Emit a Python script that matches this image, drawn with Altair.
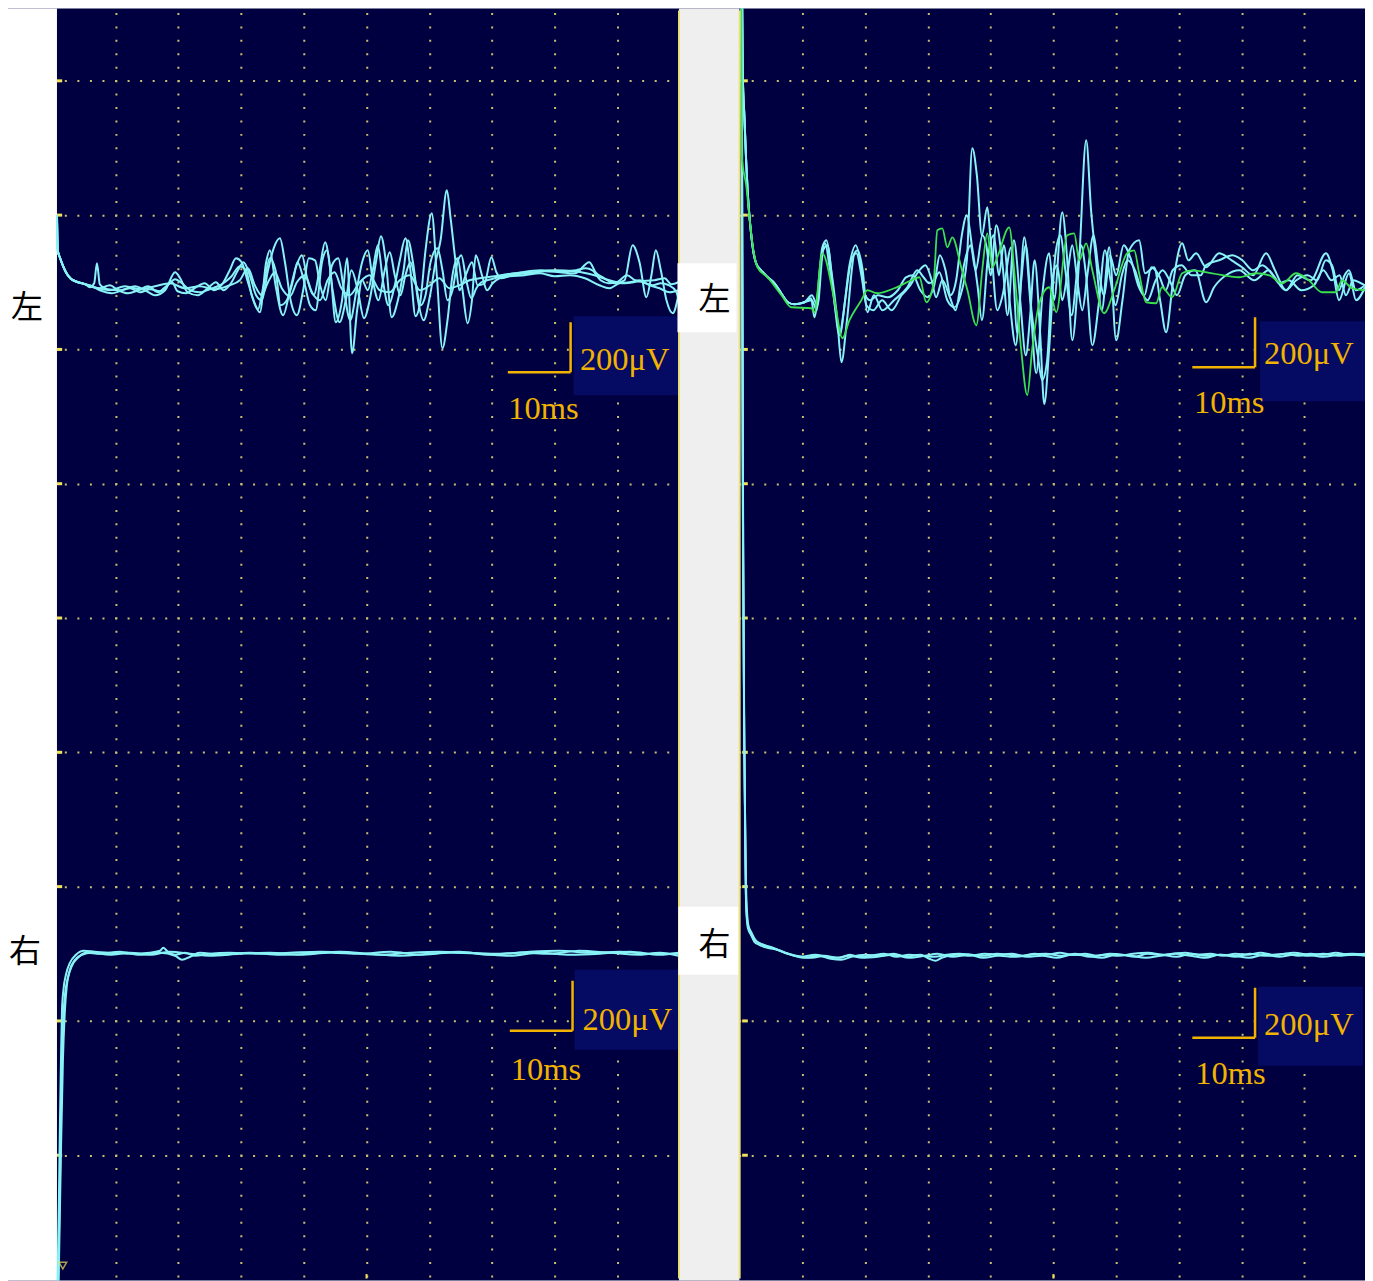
import altair as alt
import pandas as pd

# ------------------------------------------------------------------
# Sweeps: (time in ms, amplitude in µV relative to the channel baseline)
# ------------------------------------------------------------------
START_LU = [(0.67, 280), (0.8, 140), (1.15, 110), (1.6, 80), (2.1, 52), (2.8, 28), (3.6, 16), (5.2, 4)]

LU1 = START_LU + [(5.9, -8), (6.6, 8), (7.04, 88), (7.5, 4), (8.8, -16), (10.7, -20), (12.3, -12), (13.9, -28),
    (15.5, -16), (17.1, -24), (18.3, 0), (19.5, 24), (20.6, 8), (21.9, -20), (23.4, -28), (25.0, -16), (26.3, -4),
    (27.4, 12), (28.5, 36), (29.8, 76), (30.8, 60), (31.7, -40), (32.7, -96), (33.6, 0), (34.6, 108), (35.5, 60),
    (36.3, -80), (37.3, -60), (38.3, 20), (39.0, 92), (40.0, 20), (41.0, -80), (41.9, -100), (42.9, 92), (43.7, 140),
    (44.6, -20), (45.7, -148), (46.7, -60), (47.6, 60), (48.6, -20), (49.6, -132), (50.5, -60), (51.5, 92), (52.3, 196),
    (53.1, 92), (54.0, -128), (55.0, -60), (55.9, 60), (56.6, 180), (57.4, 92), (58.2, -60), (59.1, -140), (60.1, -44),
    (61.0, 92), (61.8, 180), (62.8, 380), (63.4, 268), (64.2, 92), (64.8, -20), (65.8, 40), (66.8, 92), (67.7, 0),
    (68.8, 8), (69.9, 112), (70.7, 52), (71.5, 28), (73.6, 44), (76.0, 48), (78.4, 56), (80.8, 52), (83.2, 48),
    (85.5, 92), (86.5, 52), (87.9, 28), (89.5, 8), (91.1, 20), (92.4, 160), (93.5, 92), (94.6, -48), (95.4, 40),
    (96.1, 140), (96.9, 60), (97.8, -60), (98.8, -112), (99.7, -40)]

LU2 = START_LU + [(5.9, -4), (7.5, -12), (9.1, 0), (10.4, -20), (12.0, -32), (13.6, -20), (15.2, -4), (16.8, -28),
    (17.9, -8), (19.0, 12), (19.9, -24), (21.2, -32), (22.8, -8), (24.2, 8), (25.7, -20), (27.0, 4), (28.2, 60),
    (29.2, 108), (30.1, 92), (31.1, 12), (32.0, -60), (33.0, -108), (34.0, 92), (34.6, 140), (35.5, 0), (36.7, -120),
    (37.8, -20), (38.7, 68), (39.7, 120), (40.6, 20), (41.6, -40), (42.5, 60), (43.4, 172), (44.2, 68), (45.1, -148),
    (46.1, -60), (46.9, 108), (47.7, -272), (48.5, -100), (49.3, 20), (50.2, -20), (51.0, 60), (51.8, 160), (52.6, 20),
    (53.5, -80), (54.5, 0), (55.3, 100), (56.2, 188), (57.0, 60), (57.8, -124), (58.6, -60), (59.4, 140), (60.4, 288),
    (61.2, 40), (62.1, -252), (62.9, -140), (63.7, 40), (64.5, 108), (65.3, -20), (66.1, -152), (66.8, -60),
    (67.4, 120), (68.4, 40), (69.2, -20), (70.1, 8), (71.2, 28), (72.8, 36), (75.2, 40), (77.6, 48), (80.0, 36),
    (82.4, 40), (84.8, 28), (87.1, 0), (88.7, -12), (90.3, 8), (91.9, 12), (93.5, 20), (95.1, 0), (96.7, -12),
    (98.3, -28), (99.7, -20)]

LU3 = START_LU + [(5.9, 0), (7.5, -20), (9.4, -32), (11.5, -16), (13.1, -4), (14.7, -20), (16.3, -40), (17.9, -20),
    (19.5, 52), (20.3, 28), (21.5, -28), (23.1, -40), (24.7, -12), (26.0, 12), (27.2, -20), (28.5, 12), (29.5, 60),
    (30.4, 92), (31.4, 40), (32.4, -40), (33.3, -60), (34.3, 60), (35.2, 148), (36.2, 188), (37.0, 92), (37.9, -60),
    (38.9, -120), (39.9, -20), (40.8, 108), (41.8, 100), (42.6, 0), (43.5, -60), (44.5, 80), (45.5, 108), (46.4, -20),
    (47.4, -140), (48.4, -20), (49.3, 92), (50.2, 140), (51.0, 20), (51.9, -60), (52.9, 60), (53.7, 132), (54.5, 40),
    (55.4, -40), (56.2, 40), (57.0, 92), (57.8, 12), (58.6, -80), (59.4, -40), (60.2, 92), (61.3, 148), (62.1, 60),
    (62.9, -60), (63.7, -20), (64.5, 92), (65.1, 120), (65.9, 20), (66.7, -52), (67.5, -12), (68.3, 12), (69.9, 24),
    (71.5, 36), (74.7, 52), (77.8, 60), (81.0, 56), (83.4, 60), (84.9, 68), (86.0, 60), (87.3, 20), (88.6, 8),
    (89.9, 12), (91.5, 40), (92.8, 20), (94.0, 12), (95.6, 0), (96.9, 8), (98.2, 0), (99.4, -28), (99.7, -60)]

LU4 = START_LU + [(6.7, -8), (9.1, -20), (11.5, -4), (13.9, -16), (16.3, -4), (18.7, 8), (21.1, -12), (23.4, -4),
    (25.8, -16), (28.2, 0), (29.8, 20), (31.1, 68), (32.2, 0), (33.3, -40), (34.3, 12), (35.4, 52), (36.5, -12),
    (37.8, -44), (38.9, 12), (40.2, 40), (41.3, -28), (42.6, -60), (43.8, 20), (44.9, 52), (46.0, -12), (47.3, -40),
    (48.9, 12), (50.5, 40), (52.1, -20), (53.7, -28), (55.3, 20), (56.9, 40), (58.5, -20), (60.1, 0), (61.6, 28),
    (63.2, -12), (64.8, 0), (66.4, 20), (68.0, 28), (70.4, 36), (73.6, 48), (76.8, 52), (80.0, 60), (83.2, 56),
    (86.3, 40), (88.7, 20), (91.1, 8), (93.5, 16), (95.9, 20), (97.5, 28), (98.6, 4), (99.7, 12)]

LL1 = [(0.72, -1400), (0.98, -988), (1.15, -668), (1.31, -428), (1.47, -228), (1.70, -148), (2.10, -88), (2.73, -40),
    (3.69, -8), (4.96, 8), (6.7, 4), (9.1, 0), (12.3, -4), (15.5, 0), (17.1, 8), (17.6, 20), (18.2, 8), (19.5, -8),
    (21.1, 0), (22.7, -12), (25.0, -4), (28.2, 0), (33.0, -4), (37.8, 0), (42.6, 4), (47.3, 0), (52.1, -8), (56.9, 0),
    (61.6, 4), (66.4, 0), (71.2, -4), (76.0, 4), (80.8, 8), (85.5, 0), (90.3, 4), (95.1, -4), (99.7, -4)]
LL2 = [(0.8, -1400), (1.15, -908), (1.39, -508), (1.62, -288), (1.94, -168), (2.42, -100), (3.06, -52), (4.01, -20),
    (5.3, 0), (7.5, -4), (10.7, 4), (13.9, -8), (17.1, 0), (19.5, -12), (20.6, -28), (21.9, -16), (23.4, 0), (26.6, -8),
    (31.4, 0), (36.2, -8), (40.9, -4), (45.7, 4), (50.5, -4), (55.3, -12), (60.1, -4), (64.8, 4), (69.6, -8), (74.4, 0),
    (79.2, -4), (83.9, 8), (88.7, 0), (93.5, -8), (96.7, 0), (99.7, -12)]
LL3 = [(0.88, -1400), (1.31, -788), (1.62, -428), (1.94, -228), (2.26, -128), (2.73, -68), (3.53, -28), (4.65, -8),
    (6.2, 0), (9.1, -8), (12.3, 0), (15.5, -8), (18.7, 4), (21.9, -4), (25.0, -12), (29.8, -4), (34.6, 0), (39.4, -8),
    (44.2, 0), (49.0, -4), (53.8, 4), (58.5, -8), (63.3, 0), (68.1, -4), (72.8, -12), (77.6, 0), (82.4, -8), (87.2, -4),
    (92.0, 4), (96.7, -8), (99.7, 0)]

START_RU = [(0.35, 1300), (0.49, 852), (0.76, 672), (1.03, 500), (1.29, 368), (1.72, 232), (2.08, 152), (2.62, 88),
    (3.42, 60), (4.49, 32), (5.56, 8), (6.62, -32), (7.68, -68), (8.73, -76), (10.32, -68)]

RU1 = START_RU + [(11.38, -52), (11.91, -128), (13.18, 152), (13.82, 180), (14.6, 60), (15.57, -140), (16.21, -308),
    (17.1, -140), (18.28, 128), (18.8, 140), (19.6, 60), (20.35, -108), (21.4, -40), (22.74, -100), (24.6, -60),
    (26.72, -8), (28.31, 60), (29.3, 32), (30.22, 8), (31.0, 20), (31.81, 52), (33.09, -60), (34.2, -88), (35.2, -40),
    (36.2, 100), (37.07, 548), (37.8, 440), (38.6, 200), (39.46, 312), (40.0, 180), (41.05, -100), (41.9, -40),
    (43.28, 152), (44.24, -192), (45.35, 192), (46.3, -60), (47.26, -352), (48.3, -20), (49.33, 128), (50.1, -60),
    (51.4, 292), (52.2, 100), (53.0, -220), (54.1, 100), (55.22, 580), (56.0, 300), (56.8, 100), (57.7, -100),
    (58.89, 152), (60.0, -220), (61.0, -60), (62.07, 140), (63.66, 180), (64.6, 48), (66.05, 72), (67.0, -60),
    (67.96, -188), (69.0, 0), (70.51, 168), (71.5, 100), (72.74, 128), (74.33, 72), (76.4, 128), (78.4, 100),
    (80.06, 72), (81.8, 40), (83.89, 128), (85.3, 60), (87.07, -20), (88.9, 40), (91.0, 20), (93.44, 128), (94.5, 60),
    (95.51, -60), (97.1, 48), (98.22, -60), (99.65, -8)]

RU2 = START_RU + [(11.5, -60), (12.3, -100), (13.0, 100), (13.6, 168), (14.4, 60), (15.4, -120), (16.0, -200),
    (16.8, -60), (17.8, 100), (18.6, 128), (19.4, 40), (20.2, -80), (21.3, -100), (22.7, -60), (24.2, -100),
    (25.8, -40), (27.2, 0), (28.3, 48), (29.6, 80), (30.6, 20), (31.3, -48), (32.3, 20), (33.5, -48), (34.4, -100),
    (35.3, 20), (36.1, 120), (36.8, 160), (37.6, 60), (38.7, 200), (39.3, 160), (40.0, 40), (40.9, 240), (41.9, 80),
    (42.7, -120), (43.7, 180), (44.7, -60), (45.6, -280), (46.3, -120), (47.0, 100), (47.9, -200), (48.54, -476),
    (49.3, -260), (50.3, 120), (51.1, 200), (51.9, 60), (52.9, -120), (53.8, 60), (54.4, 160), (55.2, 40),
    (56.2, -240), (57.2, -80), (58.2, 140), (59.1, 20), (59.9, -80), (60.9, 40), (61.8, 100), (63.0, 60), (64.0, -20),
    (65.0, -60), (66.3, 20), (67.4, 60), (68.5, 20), (69.7, -40), (71.0, 40), (72.6, 60), (74.33, -68), (75.6, -8),
    (77.5, 40), (79.6, 60), (82.0, 20), (84.3, 60), (86.0, 8), (87.5, 20), (89.5, -20), (91.5, 0), (93.0, 60),
    (94.3, 20), (95.6, 40), (96.6, -40), (97.8, 20), (99.0, 8), (99.65, 0)]

RU3 = START_RU + [(11.5, -40), (12.4, -80), (13.3, 140), (14.0, 160), (14.9, -20), (15.9, -200), (16.5, -120),
    (17.5, 80), (18.5, 160), (19.2, 100), (20.0, -40), (20.8, -60), (22.0, -40), (23.6, -48), (25.2, -20), (26.5, 32),
    (27.6, 40), (28.8, -20), (30.0, -48), (31.0, 0), (31.9, 120), (32.8, 60), (33.6, -40), (34.5, 20), (35.4, 200),
    (36.2, 280), (37.0, 160), (37.9, 0), (38.6, -140), (39.6, 120), (40.5, 200), (41.3, 40), (42.1, 160), (43.0, -60),
    (44.0, -240), (44.8, 0), (45.6, 160), (46.5, -100), (47.5, -280), (48.2, -380), (49.0, -300), (49.8, 20),
    (50.6, 80), (51.4, -60), (52.3, 60), (53.0, 160), (53.8, 20), (54.6, -100), (55.4, 40), (56.4, 200), (57.2, 60),
    (58.1, -40), (59.0, 120), (60.0, 40), (61.2, 160), (62.4, 100), (63.5, 0), (64.5, -40), (65.6, 72), (66.8, 40),
    (67.9, -20), (69.0, 60), (70.4, 80), (72.0, 40), (73.5, 40), (74.3, 80), (76.4, 100), (78.5, 120), (80.1, 100),
    (81.8, 60), (83.3, 80), (85.0, 40), (87.0, -20), (88.7, 20), (90.5, 40), (92.0, 20), (93.4, 100), (94.4, 80),
    (95.5, -20), (96.4, 40), (97.1, 60), (98.2, -20), (99.65, 0)]

RUG = [(0.25, 1300), (0.33, 520), (1.08, 392), (1.56, 272), (2.04, 168), (2.83, 72), (4.43, 32), (6.66, -40),
    (8.25, -88), (11.43, -92), (11.91, -108), (13.18, 128), (15.1, -60), (16.37, -212), (17.5, -140), (19.39, -60),
    (20.35, -20), (21.9, -32), (24.65, -12), (27.36, 20), (28.63, 32), (29.75, -68), (30.9, 8), (31.5, 220),
    (32.29, 228), (33.09, 152), (33.89, 192), (35.3, 72), (36.3, -20), (37.71, -160), (38.7, 72), (39.46, 208),
    (40.25, 72), (41.05, 112), (42.96, 232), (43.8, 48), (44.87, -260), (45.83, -440), (46.6, -260), (47.74, -72),
    (49.33, -8), (50.45, -108), (52.2, 200), (53.31, 208), (54.11, 100), (55.22, 168), (56.2, 60), (58.09, -112),
    (59.68, -20), (61.75, 128), (62.87, 140), (63.66, 48), (64.78, -68), (66.37, -72), (67.3, -8), (68.92, -48),
    (70.51, 48), (72.1, 60), (75.29, 48), (79.59, 32), (82.29, 48), (84.4, 40), (86.43, 8), (88.66, 48), (90.7, 20),
    (92.8, -28), (95.0, -28), (95.99, 20), (97.6, -12), (99.65, -20)]

RL1 = [(0.25, 4200), (0.5, 1800), (0.75, 800), (1.03, 184), (1.3, 100), (1.8, 72), (2.35, 44), (3.1, 32), (4.4, 20),
    (6.0, 12), (7.6, -4), (9.8, -16), (12.0, -8), (14.0, -16), (16.0, -20), (17.5, -8), (19.0, -16), (21.0, -12),
    (23.0, -4), (25.0, -16), (27.0, -8), (29.0, -12), (31.0, -16), (33.0, -8), (35.0, -4), (37.0, -8), (39.0, -12),
    (41.0, -4), (43.0, -8), (45.0, -12), (47.0, -4), (49.0, -8), (51.0, 0), (53.0, -8), (55.0, -4), (57.0, -12),
    (59.0, -4), (61.0, -8), (63.0, -16), (65.0, -4), (67.0, -8), (69.0, -4), (71.0, 0), (73.0, -8), (75.0, -4),
    (77.0, -12), (79.0, -4), (81.0, -8), (83.0, 0), (85.0, -8), (87.0, -4), (89.0, -12), (91.0, -4), (93.0, -8),
    (95.0, 0), (97.0, -8), (99.65, -4)]
RL2 = [(0.3, 4200), (0.55, 1600), (0.8, 700), (1.1, 200), (1.4, 108), (1.9, 80), (2.5, 52), (3.4, 36), (4.8, 24),
    (6.5, 8), (8.2, -8), (10.5, -20), (12.5, -12), (14.5, -24), (16.2, -28), (17.8, -16), (20.0, -8), (22.3, -12),
    (24.6, -4), (26.5, -16), (28.8, -8), (30.2, -24), (31.2, -32), (32.2, -20), (34.5, -8), (36.8, -12), (39.0, -4),
    (41.6, -12), (44.0, -16), (46.3, -8), (48.8, -4), (51.2, -12), (53.5, -4), (55.8, -16), (58.1, -8), (60.4, -12),
    (62.7, -4), (65.0, 0), (67.3, -8), (69.6, -16), (72.0, -4), (74.3, -12), (76.6, -8), (79.0, -16), (81.3, -4),
    (83.6, -12), (86.0, -8), (88.3, 0), (90.6, -8), (93.0, -16), (95.3, -8), (97.6, -4), (99.65, -8)]
RL3 = [(0.28, 4200), (0.5, 2000), (0.72, 900), (0.95, 260), (1.25, 120), (1.7, 84), (2.2, 56), (3.0, 40), (4.2, 28),
    (5.6, 16), (7.2, 0), (9.0, -12), (11.5, -20), (13.5, -12), (15.5, -20), (17.5, -12), (19.5, -20), (22.0, -16),
    (24.5, -8), (27.0, -20), (29.5, -12), (31.5, -4), (34.0, -16), (36.5, -8), (38.8, -20), (41.0, -12), (43.4, -4),
    (45.8, -16), (48.2, -12), (50.5, -20), (53.0, -8), (55.4, -12), (57.7, -20), (60.0, -8), (62.4, -12), (64.7, -20),
    (67.1, -12), (69.5, -4), (71.8, -12), (74.2, -20), (76.5, -8), (78.9, -12), (81.2, -20), (83.6, -8), (86.0, -16),
    (88.3, -8), (90.7, -12), (93.0, -4), (95.4, -12), (97.7, -8), (99.65, -12)]

# channel display offsets (µV) and screen layout in the same units
OFFSET = {"左": 1332, "右": -1340}
DIV_UV = 537.6            # one vertical division
Y_DOMAIN = [-2652, 2440]
YGRID = [k * DIV_UV for k in range(-4, 5)]
XGRID = [10, 20, 30, 40, 50, 60, 70, 80, 90]
LEFT_X = [-7.134, 109.43]
RIGHT_X = [-0.032, 99.65]

# scale bar annotations: (channel, corner ms, corner µV, box [t1, t2, v1, v2], "200μV" pos, "10ms" pos)
BARS_LEFT = [("左", 82.52, -348, (83.0, 99.8, -440, -124), (84.0, -300), (72.6, -496)),
             ("右", 82.83, -312, (83.15, 99.8, -388, -68), (84.43, -268), (73.0, -468))]
BARS_RIGHT = [("左", 82.13, -328, (82.93, 99.65, -464, -144), (83.57, -276), (72.4, -472)),
              ("右", 82.13, -340, (82.61, 99.33, -452, -136), (83.57, -288), (72.6, -484))]

BG = "#000040"
BOX = "#050a62"
GRID_C = "#c8c070"
GOLD = "#f2b300"
YEL = "#f2e25a"
CYAN = "#88f2f6"
GREEN = "#3ae04e"
EDGE_PAD = 8  # keeps full-height rules inside the plot so the chart is not shifted


def sweeps_df(sweeps, channel, prefix):
    rows = []
    for k, pts in enumerate(sweeps):
        for i, (t, v) in enumerate(pts):
            rows.append({"t": t, "y": v + OFFSET[channel], "sweep": f"{prefix}{k}", "i": i})
    return pd.DataFrame(rows)


def panel(xdom, width, hdash_off, cyan_df, green_df, bars, extras):
    sx = alt.Scale(domain=xdom, nice=False, zero=False)
    sy = alt.Scale(domain=Y_DOMAIN, nice=False, zero=False)
    axx = alt.Axis(values=XGRID, grid=True, gridColor=GRID_C, gridWidth=2, gridDash=[2, 11.44],
                   gridDashOffset=9.4, labels=False, ticks=False, domain=False, title=None)
    axy = alt.Axis(values=YGRID, grid=True, gridColor=GRID_C, gridWidth=2, gridDash=[2, 10.56],
                   gridDashOffset=hdash_off, labels=False, ticks=False, domain=False, title=None)

    def X(f):
        return alt.X(f, type="quantitative", scale=sx, axis=axx)

    def Y(f):
        return alt.Y(f, type="quantitative", scale=sy, axis=axy)

    layers = []
    for lay in extras["pre"]:
        layers.append(lay(X, Y))

    # edge ticks on horizontal divisions
    t0, t1 = extras["edge"]
    edge = pd.DataFrame({"t": [t0] * len(YGRID), "t2": [t1] * len(YGRID), "y": YGRID})
    layers.append(alt.Chart(edge).mark_rule(color=YEL, strokeWidth=3).encode(x=X("t"), x2="t2", y=Y("y")))
    # trigger mark at bottom
    trig = pd.DataFrame({"t": [50], "y": [Y_DOMAIN[0] + 8], "y2": [Y_DOMAIN[0] + 26]})
    layers.append(alt.Chart(trig).mark_rule(color=YEL, strokeWidth=2).encode(x=X("t"), y=Y("y"), y2="y2"))

    layers.append(alt.Chart(cyan_df).mark_line(color=CYAN, strokeWidth=2, clip=True,
                                               interpolate="monotone").encode(
        x=X("t"), y=Y("y"), detail="sweep:N", order="i:Q"))
    if green_df is not None:
        layers.append(alt.Chart(green_df).mark_line(color=GREEN, strokeWidth=1.8, clip=True,
                                                    interpolate="monotone").encode(
            x=X("t"), y=Y("y"), detail="sweep:N", order="i:Q"))

    boxes, hbars, vbars, texts = [], [], [], []
    for ch, ct, cv, (b1, b2, b3, b4), p200, p10 in bars:
        off = OFFSET[ch]
        boxes.append({"t": b1, "t2": b2, "y": b3 + off, "y2": b4 + off})
        hbars.append({"t": ct - 10, "t2": ct, "y": cv + off})
        vbars.append({"t": ct, "y": cv + off, "y2": cv + 200 + off})
        texts.append({"t": p200[0], "y": p200[1] + off, "label": "200μV"})
        texts.append({"t": p10[0], "y": p10[1] + off, "label": "10ms"})
    layers.append(alt.Chart(pd.DataFrame(boxes)).mark_rect(color=BOX).encode(
        x=X("t"), x2="t2", y=Y("y"), y2="y2"))
    layers.append(alt.Chart(pd.DataFrame(hbars)).mark_rule(color=GOLD, strokeWidth=2.5).encode(
        x=X("t"), x2="t2", y=Y("y")))
    layers.append(alt.Chart(pd.DataFrame(vbars)).mark_rule(color=GOLD, strokeWidth=2.5).encode(
        x=X("t"), y=Y("y"), y2="y2"))
    layers.append(alt.Chart(pd.DataFrame(texts)).mark_text(
        align="left", baseline="middle", font="Liberation Serif", fontSize=32.5, color=GOLD).encode(
        x=X("t"), y=Y("y"), text="label:N"))

    for lay in extras["post"]:
        layers.append(lay(X, Y))

    return alt.layer(*layers).properties(width=width, height=1273)


# ---------------- left panel extras ----------------
def left_pre_margin(X, Y):
    d = pd.DataFrame({"t": [LEFT_X[0]], "t2": [0.67], "y": [Y_DOMAIN[0]], "y2": [Y_DOMAIN[1]]})
    return alt.Chart(d).mark_rect(color="white").encode(x=X("t"), x2="t2", y=Y("y"), y2="y2")


def left_post_strip(X, Y):
    d = pd.DataFrame({"t": [99.8], "t2": [LEFT_X[1]], "y": [Y_DOMAIN[0]], "y2": [Y_DOMAIN[1]]})
    return alt.Chart(d).mark_rect(color="#efefef").encode(x=X("t"), x2="t2", y=Y("y"), y2="y2")


def left_post_line(X, Y):
    d = pd.DataFrame({"t": [99.8], "y": [Y_DOMAIN[0] + EDGE_PAD], "y2": [Y_DOMAIN[1] - EDGE_PAD]})
    return alt.Chart(d).mark_rule(color="#ece27a", strokeWidth=2).encode(x=X("t"), y=Y("y"), y2="y2")


def left_post_boxes(X, Y):
    d = pd.DataFrame({"t": [99.55, 99.71], "t2": [108.95, 109.27],
                      "y": [-188 + OFFSET["左"], -88 + OFFSET["右"]],
                      "y2": [88 + OFFSET["左"], 184 + OFFSET["右"]]})
    return alt.Chart(d).mark_rect(color="white").encode(x=X("t"), x2="t2", y=Y("y"), y2="y2")


def left_post_labels(X, Y):
    d = pd.DataFrame({"t": [-4.11, -4.43, 105.45, 105.45],
                      "y": [-90 + OFFSET["左"], 2 + OFFSET["右"], -58 + OFFSET["左"], 30 + OFFSET["右"]],
                      "label": ["左", "右", "左", "右"]})
    return alt.Chart(d).mark_text(align="center", baseline="middle", font="Noto Sans CJK JP",
                                  fontSize=32, color="black").encode(x=X("t"), y=Y("y"), text="label:N")


def left_post_marker(X, Y):
    d = pd.DataFrame({"t": [1.6], "y": [-2592]})
    return alt.Chart(d).mark_point(shape="triangle-down", filled=False, color=YEL, size=60,
                                   strokeWidth=1.5).encode(x=X("t"), y=Y("y"))


def right_post_line(X, Y):
    d = pd.DataFrame({"t": [0.0], "y": [Y_DOMAIN[0] + EDGE_PAD], "y2": [Y_DOMAIN[1] - EDGE_PAD]})
    return alt.Chart(d).mark_rule(color="#ece27a", strokeWidth=2).encode(x=X("t"), y=Y("y"), y2="y2")


left_cyan = pd.concat([sweeps_df([LU1, LU2, LU3, LU4], "左", "lu"),
                       sweeps_df([LL1, LL2, LL3], "右", "ll")])
right_cyan = pd.concat([sweeps_df([RU1, RU2, RU3], "左", "ru"),
                        sweeps_df([RL1, RL2, RL3], "右", "rl")])
right_green = sweeps_df([RUG], "左", "rg")

left = panel(LEFT_X, 732, 6.44, left_cyan, None, BARS_LEFT,
             {"pre": [left_pre_margin], "edge": (0.67, 1.5),
              "post": [left_post_marker, left_post_strip, left_post_line, left_post_boxes, left_post_labels]})
right = panel(RIGHT_X, 626, 0.8, right_cyan, right_green, BARS_RIGHT,
              {"pre": [], "edge": (0.4, 1.3), "post": [right_post_line]})

chart = alt.hconcat(left, right, spacing=0, bounds="flush").properties(
    background="white", padding=0
).configure_view(fill=BG, strokeWidth=0)

chart.save("out.html", embed_options={"renderer": "svg", "actions": False})
